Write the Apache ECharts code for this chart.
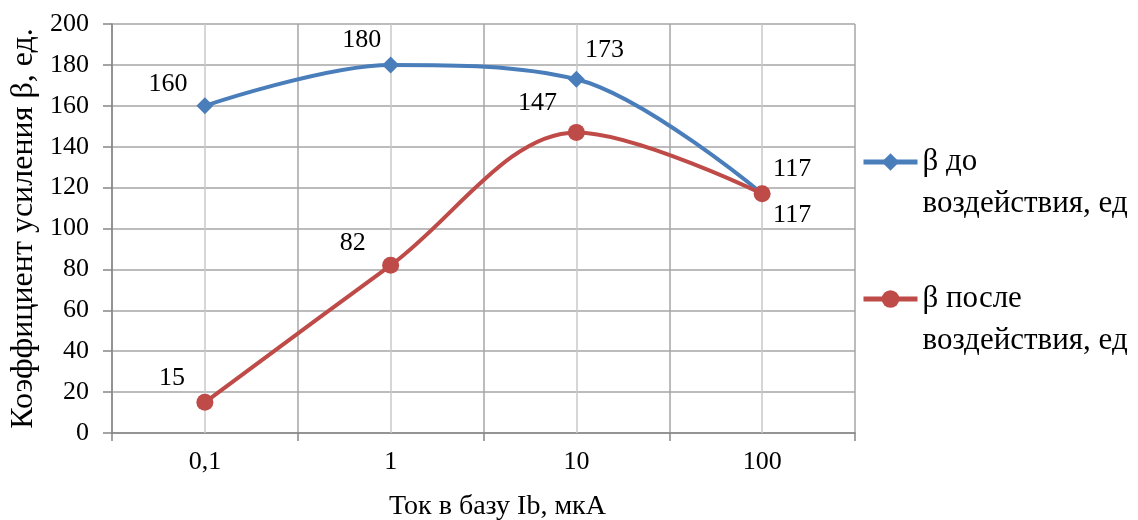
<!DOCTYPE html>
<html>
<head>
<meta charset="utf-8">
<script src="https://cdn.jsdelivr.net/npm/echarts@6/dist/echarts.min.js"></script>
<style>
  html, body { margin: 0; padding: 0; background: #fff; }
  #chart { width: 1138px; height: 520px; }
</style>
</head>
<body>
<div id="chart"></div>
<script>
// Base current, µA (log steps shown as categories)
const categories = ['0,1', '1', '10', '100'];
// Current gain before exposure
const betaBefore = [160, 180, 173, 117];
// Current gain after exposure
const betaAfter = [15, 82, 147, 117];
const seriesNames = ['β до\nвоздействия, ед', 'β после\nвоздействия, ед'];

// Label offsets around each marker (dx, dy in px)
const beforeLabelOffsets = [[-37, -22], [-29, -25], [28, -29], [30, -25]];
const afterLabelOffsets = [[-33, -24], [-38, -22], [-39, -29], [30, 21]];

const FONT = "'Liberation Serif', 'Times New Roman', serif";
const BLUE = '#4a7ebb';
const RED = '#be4b48';

function withLabels(values, offsets) {
  return values.map((v, i) => ({
    value: v,
    label: { offset: offsets[i] }
  }));
}

const chart = echarts.init(document.getElementById('chart'), null, { renderer: 'canvas' });

// Legend entry: a blank first line keeps the series' first line level with its icon
function legendBlock(name, top) {
  return {
    data: [{ name: name, lineStyle: { width: 5 } }],
    orient: 'vertical',
    left: 856,
    top: top,
    itemWidth: 54,
    itemHeight: 22,
    itemGap: 0,
    formatter: n => ' \n' + n,
    lineStyle: { width: 5 },
    textStyle: {
      fontFamily: FONT,
      fontSize: 31,
      color: '#000',
      lineHeight: 42
    }
  };
}

chart.setOption({
  animation: false,
  backgroundColor: '#fff',
  grid: {
    left: 112, right: 283, top: 24, bottom: 87,
    containLabel: false,
    outerBoundsMode: 'none'
  },
  legend: [
    legendBlock(seriesNames[0], 94),
    legendBlock(seriesNames[1], 231)
  ],
  xAxis: {
    type: 'category',
    data: categories,
    boundaryGap: true,
    name: 'Ток в базу Ib, мкА',
    nameLocation: 'middle',
    nameGap: 60,
    nameTextStyle: { fontFamily: FONT, fontSize: 28, color: '#000', padding: [0, 0, 0, 28] },
    axisLine: { lineStyle: { color: '#868686', width: 1.5 } },
    axisTick: { show: true, length: 8, lineStyle: { color: '#868686', width: 1.5 } },
    axisLabel: { fontFamily: FONT, fontSize: 26, color: '#000', margin: 16 },
    splitLine: { show: true, lineStyle: { color: '#a6a6a6', width: 1.5 } }
  },
  yAxis: {
    type: 'value',
    min: 0,
    max: 200,
    interval: 20,
    name: 'Коэффициент усиления β, ед.',
    nameLocation: 'middle',
    nameGap: 70,
    nameTextStyle: { fontFamily: FONT, fontSize: 32, color: '#000' },
    axisLine: { show: true, lineStyle: { color: '#868686', width: 1.5 } },
    axisTick: { show: true, length: 9, lineStyle: { color: '#868686', width: 1.5 } },
    axisLabel: { fontFamily: FONT, fontSize: 26, color: '#000', margin: 23 },
    splitLine: { show: true, lineStyle: { color: '#a6a6a6', width: 1.5 } }
  },
  series: [
    {
      name: seriesNames[0],
      type: 'line',
      smooth: 0.34,
      data: withLabels(betaBefore, beforeLabelOffsets),
      symbol: 'diamond',
      symbolSize: 17,
      lineStyle: { color: BLUE, width: 4 },
      itemStyle: { color: BLUE },
      z: 3,
      label: {
        show: true,
        position: 'inside',
        fontFamily: FONT,
        fontSize: 26,
        color: '#000'
      },
      // light gridlines through the category centres
      markLine: {
        silent: true,
        symbol: ['none', 'none'],
        label: { show: false },
        lineStyle: { color: '#c8c8c8', width: 1.5, type: 'solid' },
        z: 1,
        data: categories.map(c => ({ xAxis: c }))
      }
    },
    {
      name: seriesNames[1],
      type: 'line',
      smooth: 0.34,
      data: withLabels(betaAfter, afterLabelOffsets),
      symbol: 'circle',
      symbolSize: 17,
      lineStyle: { color: RED, width: 4 },
      itemStyle: { color: RED },
      z: 4,
      label: {
        show: true,
        position: 'inside',
        fontFamily: FONT,
        fontSize: 26,
        color: '#000'
      }
    }
  ]
});
</script>
</body>
</html>
